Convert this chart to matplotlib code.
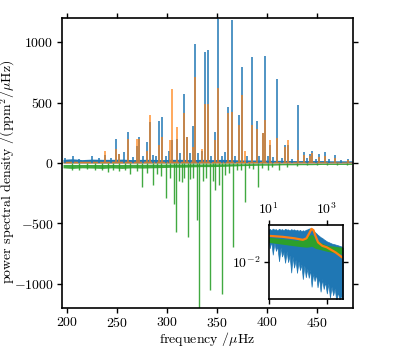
import matplotlib
matplotlib.use("Agg")
import matplotlib.pyplot as plt

plt.rcParams.update({
    "font.family": "serif",
    "font.serif": ["cmr10", "DejaVu Serif"],
    "mathtext.fontset": "cm",
    "axes.formatter.use_mathtext": True,
    "font.size": 10,
    "axes.linewidth": 1.2,
    "xtick.direction": "out",
    "ytick.direction": "out",
})

# ---------------- main panel data (frequency in muHz, PSD in ppm^2/muHz) -----
blue_peak_freq = [198, 206, 212, 225, 232, 238, 244, 248.7, 252.3, 257, 260.7, 266,
                  270.3, 272.3, 276, 279.7, 282.5, 286, 289, 292.3, 295, 299, 302,
                  305, 310.3, 313, 316.7, 320, 322.5, 325.7, 328, 331, 335, 338,
                  341.3, 344, 348, 351.3, 355, 358, 360.7, 364.7, 368, 371.7, 374.7,
                  380.3, 385, 389.7, 392, 395.7, 398, 401, 403, 406, 409.7, 415,
                  418, 421.3, 425, 431.3, 437, 440, 443, 445, 449, 452.3, 458, 462,
                  468, 474, 481.3]
blue_peak_power = [40, 58, 35, 58, 40, 70, 45, 199, 75, 94, 260, 50,
                   140, 218, 60, 177, 342, 70, 60, 351, 379, 60, 100,
                   190, 200, 80, 572, 218, 80, 307, 984, 80, 100, 920,
                   937, 60, 260, 1191, 60, 90, 467, 1185, 60, 398, 798,
                   60, 876, 348, 60, 246, 887, 60, 150, 50, 696, 40,
                   149, 150, 30, 481, 94, 40, 75, 100, 30, 75, 88, 30,
                   66, 25, 31]

orange_peak_freq = [238, 248.7, 252.3, 260.7, 270.3, 272.3, 279.7, 282.5, 292.3, 295,
                    303, 305, 310.3, 316.7, 320, 325.7, 328, 335, 338, 341.3, 348,
                    351.3, 360.7, 364.7, 371.7, 374.7, 378, 385, 389.7, 395.7, 398,
                    403, 409.7, 418, 421.3, 431.3, 437, 443, 445, 452.3, 458, 468,
                    481]
orange_peak_power = [100, 116, 75, 196, 196, 200, 100, 398, 150, 218,
                     190, 611, 300, 410, 218, 135, 715, 120, 487, 487, 190,
                     619, 417, 425, 315, 564, 100, 315, 279, 246, 356,
                     190, 205, 130, 190, 105, 70, 60, 80, 50, 60, 40,
                     25]

green_peak_freq = [205, 212, 220, 228, 235, 241, 246, 252, 258, 263, 270, 275.3, 280,
                   286.3, 290, 294, 299, 303, 306.7, 309, 312, 314.7, 317, 320.5,
                   323, 325.7, 330, 332.3, 336, 339, 343, 346, 348, 352.3, 355, 358,
                   362, 366.3, 370, 374, 378.3, 382, 386, 390.8, 395, 401.3, 405,
                   412.3, 420, 430, 440, 450, 460, 470, 480]
green_peak_power = [-60, -55, -50, -55, -60, -77, -55, -64, -60, -94, -64, -202, -80,
                    -182, -90, -110, -288, -120, -340, -575, -150, -155, -120, -611,
                    -130, -127, -472, -1300, -150, -120, -1053, -150, -224, -182, -1086, -100,
                    -80, -694, -60, -60, -321, -40, -50, -200, -40, -58, -30,
                    -58, -30, -25, -20, -20, -15, -15, -15]

noise_freq = [196, 205, 215, 225, 235, 245, 255, 265, 275, 285, 295, 305, 315, 325, 335,
              345, 355, 365, 375, 385, 395, 405, 415, 425, 435, 445, 455, 465, 475, 485]
blue_noise = [30, 35, 28, 32, 30, 30, 32, 28, 30, 30, 28, 30, 30, 28, 30,
              28, 30, 28, 25, 25, 25, 22, 22, 20, 20, 20, 20, 18, 18, 18]
orange_noise = [14, 15, 14, 15, 14, 15, 15, 14, 15, 15, 14, 15, 14, 14, 14,
                13, 13, 13, 12, 12, 12, 11, 11, 10, 10, 10, 10, 9, 9, 9]
green_noise_top = [-12, -12, -12, -12, -12, -12, -12, -11, -11, -10, -10, -9, -9, -8, -8,
                   -7, -7, -6, -6, -5, -5, -5, -4, -4, -4, -4, -3, -3, -3, -3]
green_noise_bottom = [-40, -45, -40, -42, -45, -40, -45, -40, -42, -40, -38, -35, -35, -32, -30,
                      -30, -28, -25, -22, -20, -18, -18, -15, -15, -14, -14, -12, -12, -12, -12]

yticks_main = [-1000, -500, 0, 500, 1000]
xticks_main = [200, 250, 300, 350, 400, 450]

# ---------------- inset data (log-log) ---------------------------------------
inset_freq = [10, 11, 12.5, 14, 16, 18, 20, 23, 26, 29, 33, 37, 42, 47, 53, 60, 67, 75,
              85, 95, 107, 120, 135, 150, 170, 190, 215, 240, 270, 300, 340, 380, 430,
              480, 540, 610, 690, 780, 880, 1000, 1130, 1280, 1450, 1650, 1870, 2120,
              2400, 2720, 3080, 3500]
inset_blue_hi = [0.55, 0.62, 0.52, 0.64, 0.56, 0.60, 0.50, 0.63, 0.55, 0.60, 0.52, 0.62,
                 0.56, 0.58, 0.50, 0.60, 0.54, 0.58, 0.50, 0.56, 0.48, 0.55, 0.46, 0.52,
                 0.48, 0.55, 0.58, 0.64, 0.66, 0.62, 0.50, 0.42, 0.36, 0.30, 0.26, 0.22,
                 0.20, 0.17, 0.15, 0.13, 0.12, 0.11, 0.10, 0.095, 0.09, 0.085, 0.08,
                 0.075, 0.07, 0.06]
inset_blue_lo = [0.19, 0.056, 0.13, 0.025, 0.11, 0.040, 0.074, 0.011, 0.061, 0.020, 0.036,
                 0.0091, 0.039, 0.0099, 0.023, 0.0027, 0.020, 0.0050, 0.013, 0.0026,
                 0.011, 0.0037, 0.0076, 0.0012, 0.0065, 0.0015, 0.0044, 0.0014, 0.0038,
                 0.00046, 0.0025, 0.00093, 0.0022, 0.00043, 0.0015, 0.00025, 0.0012,
                 0.00035, 0.00082, 0.00020, 0.00069, 0.00012, 0.00046, 0.00016, 0.00038,
                 0.000073, 0.00025, 0.000079, 0.00016, 0.000085]
green_freq = [10, 100, 200, 250, 300, 350, 400, 1000, 3500]
inset_green_hi = [0.22, 0.15, 0.22, 0.28, 0.31, 0.26, 0.15, 0.08, 0.062]
inset_green_lo = [0.116, 0.071, 0.063, 0.066, 0.071, 0.062, 0.055, 0.038, 0.026]
orange_model_freq = [10, 30, 80, 150, 200, 250, 300, 350, 400, 500, 700, 1000, 2000, 3500]
orange_model_power = [0.26, 0.23, 0.19, 0.158, 0.19, 0.36, 0.62, 0.52, 0.28, 0.116,
                      0.075, 0.062, 0.033, 0.017]

# ---------------- figure ------------------------------------------------------
fig = plt.figure(figsize=(4.15, 3.63), dpi=100)
ax = fig.add_axes([62 / 415, 1 - 308 / 363, 291 / 415, 290 / 363])

ax.fill_between(noise_freq, 0, blue_noise, color="C0", lw=0)
ax.vlines(blue_peak_freq, 0, blue_peak_power, color="C0", lw=1.1)
ax.fill_between(noise_freq, 0, orange_noise, color="C1", alpha=0.8, lw=0)
ax.vlines(orange_peak_freq, 0, orange_peak_power, color="C1", lw=1.1, alpha=0.85)
ax.fill_between(noise_freq, green_noise_top, green_noise_bottom, color="C2", alpha=0.9, lw=0)
ax.vlines(green_peak_freq, 0, green_peak_power, color="C2", lw=1.0, alpha=0.9)

ax.set_xlim(195, 486)
ax.set_ylim(-1200, 1200)
ax.set_xticks(xticks_main)
ax.set_yticks(yticks_main)
ax.tick_params(top=True, right=True, labeltop=False, labelright=False,
               length=3.5, width=1.0, labelsize=10, pad=2.5)
ax.set_xlabel(r"frequency /$\mu$Hz", fontsize=10)
ax.xaxis.set_label_coords(0.5, -0.075)
ax.set_ylabel(r"power spectral density /(ppm$^2$/$\mu$Hz)", fontsize=10)
ax.yaxis.set_label_coords(-0.155, 0.47)

# inset
axi = fig.add_axes([268.5 / 415, 1 - 299 / 363, 74.2 / 415, 74 / 363])
axi.fill_between(inset_freq, inset_blue_lo, inset_blue_hi, color="C0", lw=0.5, edgecolor="C0")
axi.fill_between(green_freq, inset_green_lo, inset_green_hi, color="C2", lw=0)
axi.plot(orange_model_freq, orange_model_power, color="C1", lw=1.6)
axi.set_xscale("log")
axi.set_yscale("log")
axi.set_xlim(10, 3500)
axi.set_ylim(1e-4, 1)
axi.set_xticks([10, 1000])
axi.set_yticks([1e-2])
axi.minorticks_off()
axi.tick_params(top=True, right=True, labeltop=True, labelbottom=False,
                length=3.5, width=1.0, labelsize=10, pad=2.5)

fig.savefig("out.png", dpi=100)
